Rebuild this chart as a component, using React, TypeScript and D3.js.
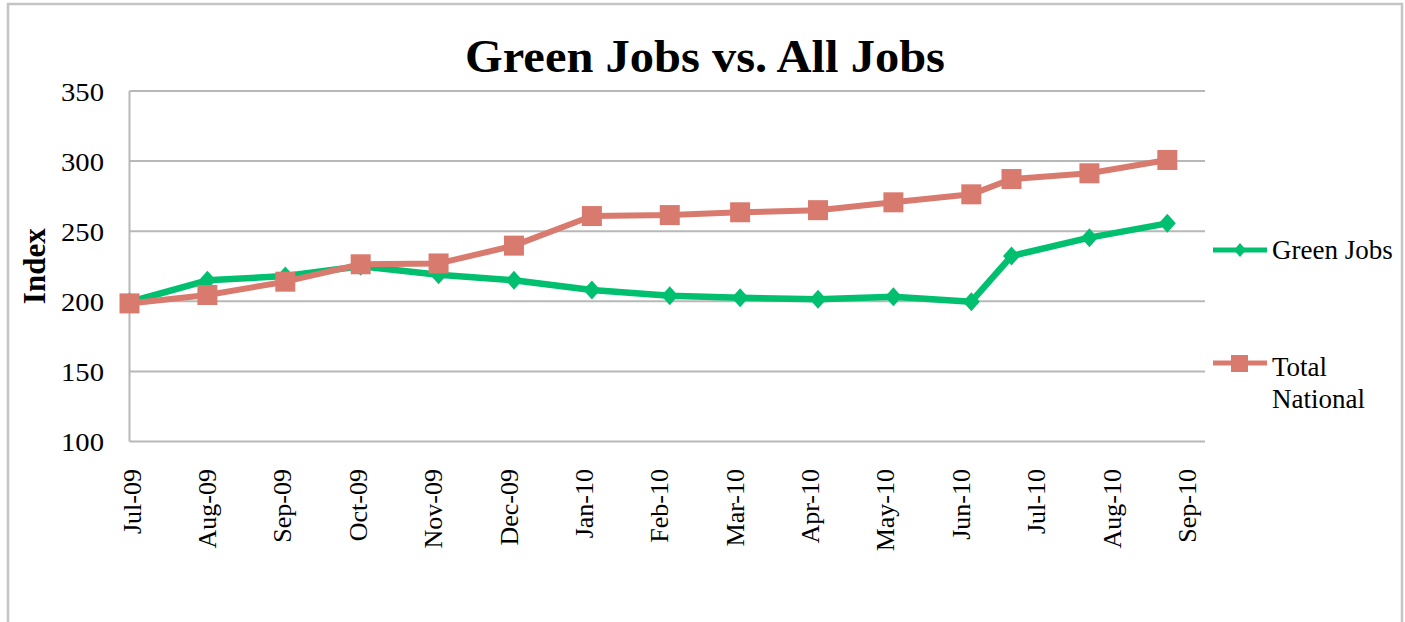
import * as d3 from "d3";

const dates = [
  "2009-07-01", "2009-08-01", "2009-09-01", "2009-10-01", "2009-11-01",
  "2009-12-01", "2010-01-01", "2010-02-01", "2010-03-01", "2010-04-01",
  "2010-05-01", "2010-06-01", "2010-06-17", "2010-07-18", "2010-08-18",
];
const greenJobs = [199.5, 215, 218, 225, 219, 215, 208, 204, 202.6, 201.4, 203.3, 199.7, 232.3, 245.4, 255.6];
const totalNational = [198.5, 204.5, 214, 226.4, 227, 239.7, 260.8, 261.5, 263.5, 265, 270.6, 276.3, 287.2, 291.3, 300.8];
const tickLabels = [
  "Jul-09", "Aug-09", "Sep-09", "Oct-09", "Nov-09", "Dec-09", "Jan-10", "Feb-10",
  "Mar-10", "Apr-10", "May-10", "Jun-10", "Jul-10", "Aug-10", "Sep-10",
];
const yTicks = [100, 150, 200, 250, 300, 350];

const GREEN = "#00c070";
const RED = "#d97a6e";
const FONT = "'Liberation Serif', 'Times New Roman', serif";

export default function App() {
  const W = 1405;
  const H = 622;
  const left = 129.5;
  const right = 1205;
  const top = 91;
  const bottom = 441.5;

  const start = new Date(dates[0] + "T00:00:00Z");
  const x = d3
    .scaleUtc()
    .domain([start, d3.utcDay.offset(start, 428)])
    .range([left, right]);
  const y = d3.scaleLinear().domain([100, 350]).range([bottom, top]);

  const parsed = dates.map((d) => new Date(d + "T00:00:00Z"));
  const line = d3
    .line<number>()
    .x((_, i) => x(parsed[i]))
    .y((v) => y(v));

  const diamond = (cx: number, cy: number, rx: number, ry: number) =>
    `M${cx},${cy - ry}L${cx + rx},${cy}L${cx},${cy + ry}L${cx - rx},${cy}Z`;

  return (
    <svg
      width={W}
      height={H}
      style={{ position: "absolute", left: 0, top: 0, background: "#fff" }}
    >
      <rect x={8} y={4} width={1394} height={640} fill="#fff" stroke="#c4c4c4" strokeWidth={2.5} />

      <text
        x={705}
        y={72}
        textAnchor="middle"
        fontFamily={FONT}
        fontWeight="bold"
        fontSize={46}
        textLength={480}
        lengthAdjust="spacingAndGlyphs"
      >
        Green Jobs vs. All Jobs
      </text>

      {/* gridlines */}
      {yTicks.map((t) => (
        <g key={t}>
          <line x1={left} x2={right} y1={y(t)} y2={y(t)} stroke="#b8b8b8" strokeWidth={2} />
          <text
            x={104}
            y={y(t)}
            dy="0.38em"
            textAnchor="end"
            fontFamily={FONT}
            fontSize={25}
            textLength={43}
            lengthAdjust="spacingAndGlyphs"
          >
            {t}
          </text>
        </g>
      ))}
      <line x1={left} x2={left} y1={top} y2={bottom} stroke="#b8b8b8" strokeWidth={2} />

      <text
        transform={`translate(45,${(top + bottom) / 2}) rotate(-90)`}
        textAnchor="middle"
        fontFamily={FONT}
        fontWeight="bold"
        fontSize={31}
      >
        Index
      </text>

      {tickLabels.map((lab, i) => {
        const px = x(d3.utcDay.offset(start, 30 * i));
        return (
          <text
            key={lab}
            transform={`translate(${px + 2},469) rotate(-90)`}
            textAnchor="end"
            dy="0.35em"
            fontFamily={FONT}
            fontSize={26}
          >
            {lab}
          </text>
        );
      })}

      {/* Green Jobs */}
      <path d={line(greenJobs) ?? ""} fill="none" stroke={GREEN} strokeWidth={6.5} strokeLinejoin="round" />
      {greenJobs.map((v, i) => (
        <path key={i} d={diamond(x(parsed[i]), y(v), 8.5, 9.5)} fill={GREEN} />
      ))}

      {/* Total National */}
      <path d={line(totalNational) ?? ""} fill="none" stroke={RED} strokeWidth={6} strokeLinejoin="round" />
      {totalNational.map((v, i) => (
        <rect key={i} x={x(parsed[i]) - 10} y={y(v) - 10} width={20} height={20} fill={RED} />
      ))}

      {/* legend */}
      <line x1={1213} x2={1267} y1={250} y2={250} stroke={GREEN} strokeWidth={5} />
      <path d={diamond(1240, 250, 6, 7)} fill={GREEN} />
      <text x={1272} y={259} fontFamily={FONT} fontSize={27}>Green Jobs</text>

      <line x1={1213} x2={1267} y1={363} y2={363} stroke={RED} strokeWidth={5} />
      <rect x={1231} y={355} width={17} height={17} fill={RED} />
      <text x={1272} y={376} fontFamily={FONT} fontSize={27}>Total</text>
      <text x={1272} y={408} fontFamily={FONT} fontSize={27}>National</text>
    </svg>
  );
}
